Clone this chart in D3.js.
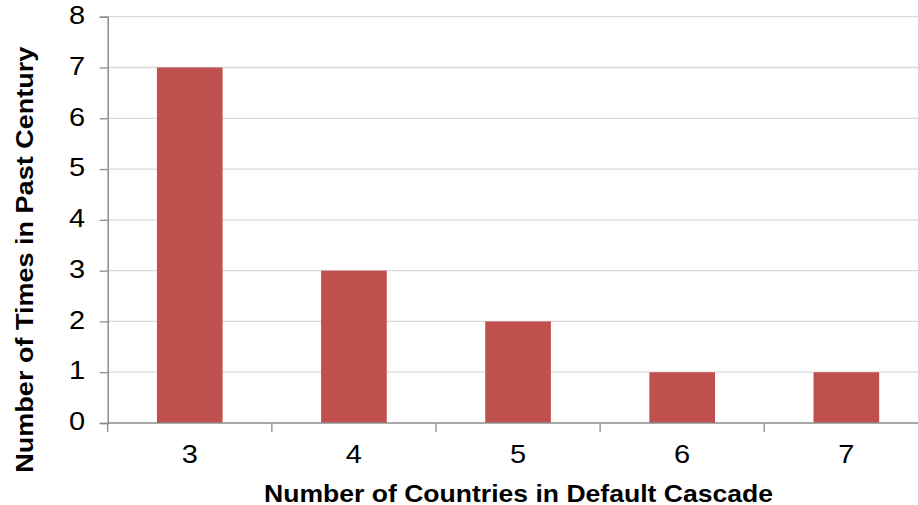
<!DOCTYPE html>
<html>
<head>
<meta charset="utf-8">
<script src="https://cdn.jsdelivr.net/npm/d3@7"></script>
<style>
  html, body { margin: 0; padding: 0; background: #fff; }
  svg { display: block; font-family: Arial, "Liberation Sans", sans-serif; }
</style>
</head>
<body>
<svg id="chart" width="918" height="505"></svg>
<script>
// Default cascades: how many countries were involved, and how often it happened
const categories = ["3", "4", "5", "6", "7"];
const timesInCentury = [7, 3, 2, 1, 1];
const yTicks = [0, 1, 2, 3, 4, 5, 6, 7, 8];
const xTitle = "Number of Countries in Default Cascade";
const yTitle = "Number of Times in Past Century";

const svg = d3.select("#chart");
const plotLeft = 107.7, plotRight = 928.4, plotTop = 16.7, plotBottom = 423;
const fontStack = "Arial, 'Liberation Sans', sans-serif";
const widen = 1.16; // glyphs are drawn a little wider than the face's native width

const x = d3.scaleBand()
  .domain(categories)
  .range([plotLeft, plotRight])
  .paddingInner(0.6)
  .paddingOuter(0.3);

const y = d3.scaleLinear().domain([0, 8]).range([plotBottom, plotTop]);

// horizontal gridlines
svg.append("g")
  .selectAll("line")
  .data(yTicks.filter(d => d > 0))
  .join("line")
  .attr("x1", plotLeft).attr("x2", plotRight)
  .attr("y1", d => y(d)).attr("y2", d => y(d))
  .attr("stroke", "#d9d9d9").attr("stroke-width", 1.3);

// bars
svg.append("g")
  .selectAll("rect")
  .data(categories.map((c, i) => ({ c, v: timesInCentury[i] })))
  .join("rect")
  .attr("x", d => x(d.c))
  .attr("y", d => y(d.v))
  .attr("width", x.bandwidth())
  .attr("height", d => y(0) - y(d.v))
  .attr("fill", "#c0504d");

// y axis
const yPad = 14.5;
const yAxis = svg.append("g").attr("transform", `translate(${plotLeft},0)`)
  .call(d3.axisLeft(y).tickValues(yTicks).tickSize(8).tickPadding(yPad).tickFormat(d3.format("d")));
yAxis.select(".domain").attr("stroke", "#8c8c8c").attr("stroke-width", 1.5);
yAxis.selectAll(".tick line").attr("stroke", "#8c8c8c").attr("stroke-width", 1.3);
const ax = -(8 + yPad);
yAxis.selectAll(".tick text")
  .attr("font-size", 25).attr("fill", "#000").attr("font-family", fontStack)
  .attr("dy", "0.27em")
  .attr("transform", `translate(${ax},0) scale(${widen},1) translate(${-ax},0)`);

// x axis: labels under bars, tick marks at category boundaries
const xAxis = svg.append("g").attr("transform", `translate(0,${plotBottom})`)
  .call(d3.axisBottom(x).tickSize(0).tickPadding(22.5));
xAxis.select(".domain").remove();
xAxis.selectAll(".tick text")
  .attr("font-size", 25).attr("fill", "#000").attr("font-family", fontStack)
  .attr("transform", `scale(${widen},1)`);
svg.append("line")
  .attr("x1", plotLeft).attr("x2", plotRight)
  .attr("y1", plotBottom).attr("y2", plotBottom)
  .attr("stroke", "#8c8c8c").attr("stroke-width", 1.5);
const boundaries = d3.range(categories.length + 1).map(i => plotLeft + i * x.step());
svg.append("g").selectAll("line")
  .data(boundaries)
  .join("line")
  .attr("x1", d => d).attr("x2", d => d)
  .attr("y1", plotBottom).attr("y2", plotBottom + 9)
  .attr("stroke", "#8c8c8c").attr("stroke-width", 1.3);

// axis titles
svg.append("text")
  .attr("x", 518.5).attr("y", 501.5)
  .attr("text-anchor", "middle")
  .attr("font-size", 24).attr("font-weight", "bold")
  .attr("textLength", 509).attr("lengthAdjust", "spacingAndGlyphs")
  .text(xTitle);

svg.append("text")
  .attr("transform", "translate(32.5,259.7) rotate(-90)")
  .attr("text-anchor", "middle")
  .attr("font-size", 24).attr("font-weight", "bold")
  .attr("textLength", 426).attr("lengthAdjust", "spacingAndGlyphs")
  .text(yTitle);
</script>
</body>
</html>
